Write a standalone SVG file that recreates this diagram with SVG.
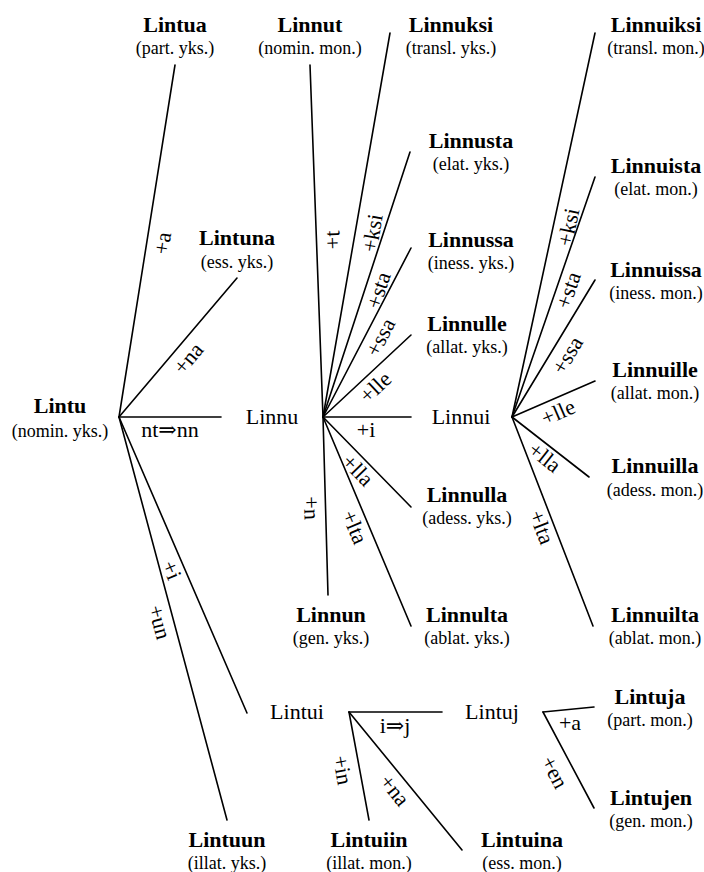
<svg xmlns="http://www.w3.org/2000/svg" width="704" height="872" viewBox="0 0 704 872">
<style>
text{font-family:"Liberation Serif","Times New Roman","DejaVu Serif",serif;fill:#000}
.t{font-size:22px;font-weight:bold;text-anchor:middle}
.s{font-size:18px;text-anchor:middle}
.m{font-size:22px;text-anchor:middle}
.e{font-size:22px;text-anchor:middle}
.c line{stroke:#000;stroke-width:1.6;stroke-linecap:round}
</style>
<rect width="704" height="872" fill="#fff"/>
<g class="c" id="connectors">
<line x1="119" y1="417" x2="175" y2="65"/>
<line x1="119" y1="417" x2="237" y2="278"/>
<line x1="119" y1="417" x2="221" y2="417"/>
<line x1="119" y1="417" x2="247" y2="713"/>
<line x1="119" y1="417" x2="227" y2="820"/>
<line x1="323" y1="417" x2="310" y2="65"/>
<line x1="323" y1="417" x2="390" y2="33"/>
<line x1="323" y1="417" x2="410" y2="152"/>
<line x1="323" y1="417" x2="411" y2="248"/>
<line x1="323" y1="417" x2="411" y2="335"/>
<line x1="323" y1="417" x2="411" y2="417"/>
<line x1="323" y1="417" x2="411" y2="507"/>
<line x1="323" y1="417" x2="411" y2="626"/>
<line x1="323" y1="417" x2="328" y2="595"/>
<line x1="512" y1="417" x2="595" y2="33"/>
<line x1="512" y1="417" x2="595" y2="177"/>
<line x1="512" y1="417" x2="595" y2="280"/>
<line x1="512" y1="417" x2="595" y2="381"/>
<line x1="512" y1="417" x2="589" y2="477"/>
<line x1="512" y1="417" x2="593" y2="626"/>
<line x1="349" y1="712" x2="442" y2="712"/>
<line x1="349" y1="712" x2="369" y2="820"/>
<line x1="349" y1="712" x2="462" y2="850"/>
<line x1="543" y1="712" x2="594" y2="707"/>
<line x1="543" y1="712" x2="594" y2="808"/>
</g>
<g id="edge-labels">
<text class="e" transform="translate(162,243) rotate(-81)" dy="0.35em">+a</text>
<text class="e" transform="translate(188,358) rotate(-50)" dy="0.35em">+na</text>
<text class="e" x="170" y="437">nt⇒nn</text>
<text class="e" transform="translate(172,570) rotate(66.6)" dy="0.35em">+i</text>
<text class="e" transform="translate(160,622) rotate(75)" dy="0.35em">+un</text>
<text class="e" transform="translate(332,240) rotate(-92)" dy="0.35em">+t</text>
<text class="e" transform="translate(372,233) rotate(-80)" dy="0.35em">+ksi</text>
<text class="e" transform="translate(378,290) rotate(-72)" dy="0.35em">+sta</text>
<text class="e" transform="translate(380,337) rotate(-62.5)" dy="0.35em">+ssa</text>
<text class="e" transform="translate(375,387) rotate(-43)" dy="0.35em">+lle</text>
<text class="e" x="366" y="437">+i</text>
<text class="e" transform="translate(358,470) rotate(45.6)" dy="0.35em">+lla</text>
<text class="e" transform="translate(355,527) rotate(67)" dy="0.35em">+lta</text>
<text class="e" transform="translate(312,508) rotate(88.4)" dy="0.35em">+n</text>
<text class="e" transform="translate(568,227) rotate(-77.8)" dy="0.35em">+ksi</text>
<text class="e" transform="translate(568,290) rotate(-71)" dy="0.35em">+sta</text>
<text class="e" transform="translate(567,355) rotate(-59)" dy="0.35em">+ssa</text>
<text class="e" transform="translate(558,412) rotate(-23.4)" dy="0.35em">+lle</text>
<text class="e" transform="translate(545,457) rotate(38)" dy="0.35em">+lla</text>
<text class="e" transform="translate(542,527) rotate(69)" dy="0.35em">+lta</text>
<text class="e" x="395" y="733">i⇒j</text>
<text class="e" transform="translate(343,770) rotate(79.5)" dy="0.35em">+in</text>
<text class="e" transform="translate(395,790) rotate(50.7)" dy="0.35em">+na</text>
<text class="e" x="570" y="730">+a</text>
<text class="e" transform="translate(555,772) rotate(62)" dy="0.35em">+en</text>
</g>
<g id="Lintu"><text class="t" x="60" y="413">Lintu</text><text class="s" x="60" y="437">(nomin. yks.)</text></g>
<g id="Linnu"><text class="m" x="272" y="424">Linnu</text></g>
<g id="Linnui"><text class="m" x="461" y="424">Linnui</text></g>
<g id="Lintui"><text class="m" x="297" y="719">Lintui</text></g>
<g id="Lintuj"><text class="m" x="492" y="719">Lintuj</text></g>
<g id="Lintua"><text class="t" x="175" y="32">Lintua</text><text class="s" x="175" y="54">(part. yks.)</text></g>
<g id="Linnut"><text class="t" x="310" y="32">Linnut</text><text class="s" x="310" y="54">(nomin. mon.)</text></g>
<g id="Linnuksi"><text class="t" x="451" y="32">Linnuksi</text><text class="s" x="451" y="54">(transl. yks.)</text></g>
<g id="Linnuiksi"><text class="t" x="656" y="32">Linnuiksi</text><text class="s" x="656" y="54">(transl. mon.)</text></g>
<g id="Lintuna"><text class="t" x="237" y="245">Lintuna</text><text class="s" x="237" y="268">(ess. yks.)</text></g>
<g id="Linnusta"><text class="t" x="471" y="148">Linnusta</text><text class="s" x="471" y="170">(elat. yks.)</text></g>
<g id="Linnussa"><text class="t" x="471" y="247">Linnussa</text><text class="s" x="471" y="269">(iness. yks.)</text></g>
<g id="Linnulle"><text class="t" x="467" y="331">Linnulle</text><text class="s" x="467" y="353">(allat. yks.)</text></g>
<g id="Linnulla"><text class="t" x="467" y="502">Linnulla</text><text class="s" x="467" y="524">(adess. yks.)</text></g>
<g id="Linnulta"><text class="t" x="467" y="622">Linnulta</text><text class="s" x="467" y="644">(ablat. yks.)</text></g>
<g id="Linnun"><text class="t" x="331" y="622">Linnun</text><text class="s" x="331" y="644">(gen. yks.)</text></g>
<g id="Linnuista"><text class="t" x="656" y="173">Linnuista</text><text class="s" x="656" y="195">(elat. mon.)</text></g>
<g id="Linnuissa"><text class="t" x="656" y="277">Linnuissa</text><text class="s" x="656" y="299">(iness. mon.)</text></g>
<g id="Linnuille"><text class="t" x="655" y="377">Linnuille</text><text class="s" x="655" y="399">(allat. mon.)</text></g>
<g id="Linnuilla"><text class="t" x="655" y="473">Linnuilla</text><text class="s" x="655" y="496">(adess. mon.)</text></g>
<g id="Linnuilta"><text class="t" x="655" y="622">Linnuilta</text><text class="s" x="655" y="644">(ablat. mon.)</text></g>
<g id="Lintuja"><text class="t" x="650" y="704">Lintuja</text><text class="s" x="650" y="726">(part. mon.)</text></g>
<g id="Lintujen"><text class="t" x="651" y="805">Lintujen</text><text class="s" x="651" y="827">(gen. mon.)</text></g>
<g id="Lintuun"><text class="t" x="227" y="847">Lintuun</text><text class="s" x="227" y="869">(illat. yks.)</text></g>
<g id="Lintuiin"><text class="t" x="369" y="847">Lintuiin</text><text class="s" x="369" y="869">(illat. mon.)</text></g>
<g id="Lintuina"><text class="t" x="522" y="847">Lintuina</text><text class="s" x="522" y="869">(ess. mon.)</text></g>
</svg>
